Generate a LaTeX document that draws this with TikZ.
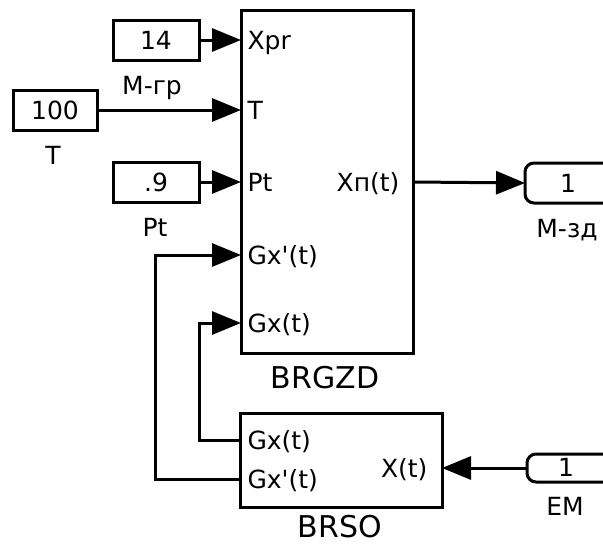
\documentclass[tikz,border=0pt]{standalone}
\usepackage{fontspec}
\setmainfont{DejaVu Sans}
\usetikzlibrary{arrows.meta,positioning}

\begin{document}
\begin{tikzpicture}[x=1pt, y=-1pt, line width=3pt,
  blk/.style={draw, inner sep=0pt, outer sep=0pt, font=\fontsize{25}{27}\selectfont},
  lbl/.style={inner sep=0pt, text height=18pt, text depth=0pt,
    font=\fontsize{25}{27}\selectfont},
  blkname/.style={inner sep=0pt, font=\fontsize{30}{32}\selectfont},
  port/.style={draw, outer sep=0pt, rounded corners=9pt, minimum width=115pt,
    anchor=west},
  sig/.style={-{Triangle[length=29pt, width=23pt]}}]
\useasboundingbox (0,0) rectangle (603,546);
\clip (0,0) rectangle (603,546);
% constants
\node[blk, minimum width=86pt, minimum height=40pt] (c14) at (156,40) {14};
\node[lbl] (c14-name) at (152,85) {М-гр};
\node[blk, minimum width=84pt, minimum height=40pt] (c100) at (55,110) {100};
\node[lbl] (c100-name) at (53,155) {T};
\node[blk, minimum width=86pt, minimum height=40pt] (c9) at (156,182) {.9};
\node[lbl] (c9-name) at (155,227) {Pt};
% BRGZD
\node[blk, minimum width=172pt, minimum height=343pt] (brgzd) at (327,181.5) {};
\foreach \nm/\y/\txt in {xpr/40/Xpr, t/110/T, pt/182/Pt,
    gxd/255/Gx\textquotesingle(t), gx/323/Gx(t)}
  \node[lbl, anchor=west] (zd-\nm) at (246,\y) {\txt};
\node[lbl, anchor=east] (zd-xn) at (401,182) {Xп(t)};
\node[blkname] (brgzd-name) at (325,378) {BRGZD};
% BRSO
\node[blk, minimum width=202pt, minimum height=94pt] (brso) at (341,460) {};
\node[lbl, anchor=west] (so-gx) at (246,440) {Gx(t)};
\node[lbl, anchor=west] (so-gxd) at (246,479) {Gx\textquotesingle(t)};
\node[lbl, anchor=east] (so-x) at (429,468) {X(t)};
\node[blkname] (brso-name) at (340,527) {BRSO};
% ports
\node[port, minimum height=40pt] (mzd) at (525,183) {};
\node[lbl] (mzd-num) at (568,183) {1};
\node[lbl] (mzd-name) at (567,228) {М-зд};
\node[port, minimum height=28pt] (em) at (527,468) {};
\node[lbl] (em-num) at (566,467) {1};
\node[lbl] (em-name) at (565,506) {EM};
% signals
\draw[sig] (c14) -- (brgzd.west |- c14);
\draw[sig] (c100) -- (brgzd.west |- c100);
\draw[sig] (c9) -- (brgzd.west |- c9);
\draw[sig] (brgzd.east |- zd-xn) -- (mzd.west);
\draw[sig] (em.west) -- (brso.east |- em);
\draw[sig] (brso.west |- so-gx) -- ++(-41,0) |- (brgzd.west |- zd-gx);
\draw[sig] (brso.west |- so-gxd) -- ++(-85,0) |- (brgzd.west |- zd-gxd);
\end{tikzpicture}
\end{document}
